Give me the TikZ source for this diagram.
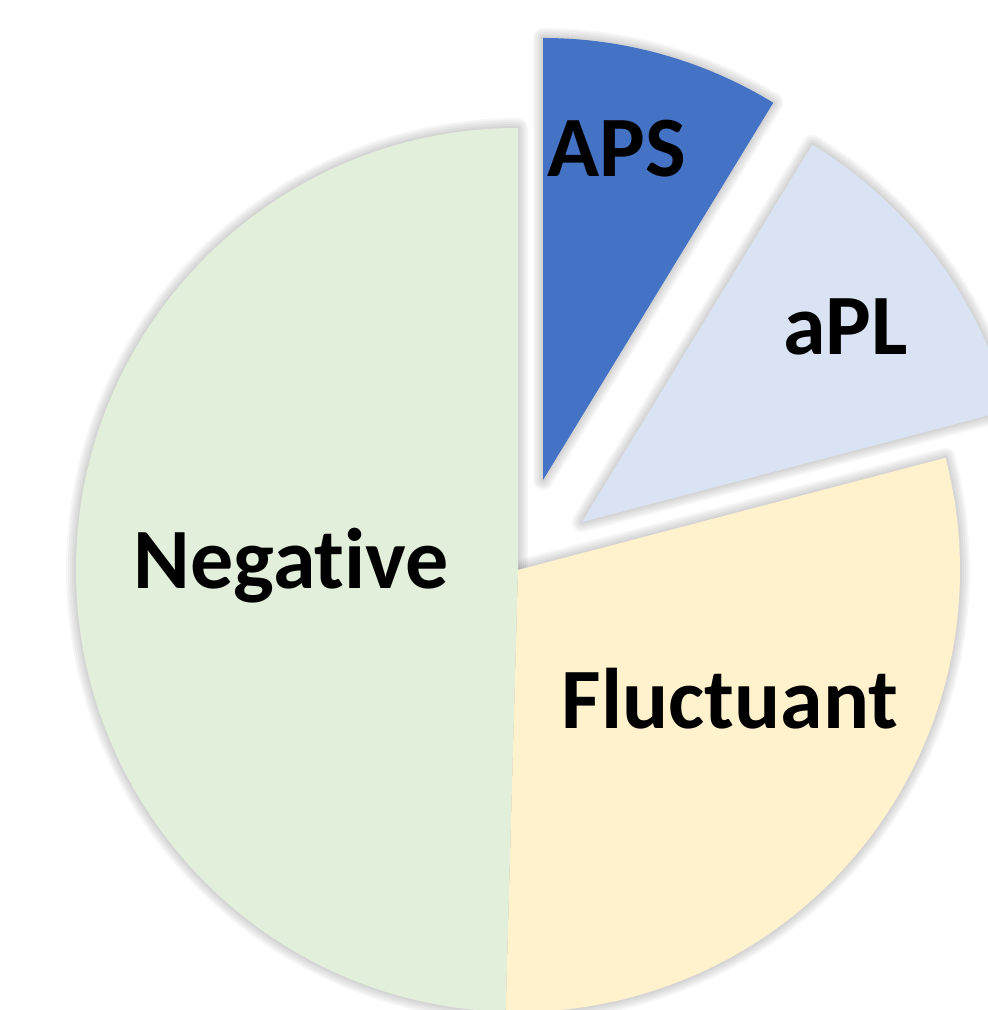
\documentclass[tikz,border=0pt]{standalone}
\usepackage{fontspec}
\setmainfont{Carlito}[Ligatures=NoCommon,RawFeature={-liga;-dlig;-clig}]
\definecolor{apsblue}{HTML}{4472C4}
\definecolor{aplblue}{HTML}{DAE3F3}
\definecolor{flucyellow}{HTML}{FFF2CC}
\definecolor{neggreen}{HTML}{E2EFDA}
\begin{document}
\begin{tikzpicture}[x=1pt,y=1pt,
  lbl/.style={font=\fontsize{86}{90}\selectfont\bfseries, anchor=base, inner sep=0pt, text=black},
  halo/.style={black, opacity=0.035, line join=round}]
\useasboundingbox (0,0) rectangle (988,1010);
\clip (0,0) rectangle (988,1010);
\coordinate (cN) at (518,440);
\coordinate (cF) at (518,440);
\coordinate (cL) at (582,488);
\coordinate (cA) at (543,530);
% soft shadows
\foreach \c/\a/\b in {cN/90/268.4, cF/-91.6/14.7, cL/14.7/58.6, cA/58.6/90}{
  \foreach \w in {20,16,12,8,4}{
    \draw[halo, line width=\w pt] (\c) -- ++(\a:442) arc[start angle=\a, end angle=\b, radius=442] -- cycle;
  }
}
% slices
\foreach \c/\a/\b/\col in {cN/90/268.4/neggreen, cF/-91.6/14.7/flucyellow, cL/14.7/58.6/aplblue, cA/58.6/90/apsblue}{
  \fill[\col] (\c) -- ++(\a:442) arc[start angle=\a, end angle=\b, radius=442] -- cycle;
}
% labels
\node[lbl] (negative) at (291.5,421) {Negative};
\node[lbl] (fluctuant) at (730,281) {Fluctuant};
\node[lbl] (apl) at (845.5,655) {aPL};
\node[lbl] (aps) at (617,833) {APS};
\end{tikzpicture}
\end{document}
